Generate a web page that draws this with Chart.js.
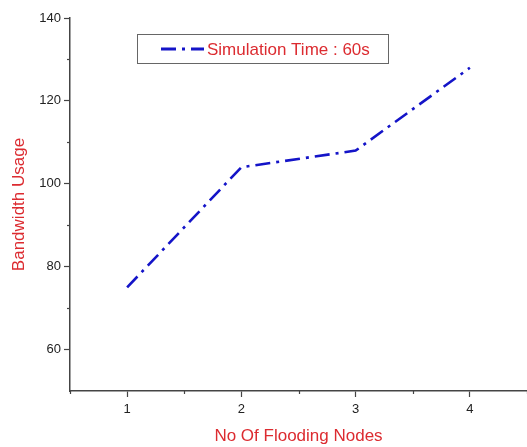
<!DOCTYPE html>
<html lang="en">
<head>
  <meta charset="UTF-8" />
  <title>Bandwidth Usage vs Flooding Nodes</title>
  <script src="https://cdn.jsdelivr.net/npm/chart.js"></script>
  <style>
    * { margin: 0; padding: 0; box-sizing: border-box; }
    body { background: #ffffff; width: 527px; height: 447px; overflow: hidden; }
    canvas { display: block; }
  </style>
</head>
<body>
  <canvas id="bwChart" width="527" height="447"></canvas>

  <script>
    // data
    const floodingNodes = [1, 2, 3, 4];
    const bandwidthUsage = [75, 104, 108, 128];
    const seriesLabel = 'Simulation Time : 60s';
    const yLabelTicks = [60, 80, 100, 120, 140];
    const xLabelTicks = [1, 2, 3, 4];

    const red = '#dc2b30';
    const axisColor = '#444444';

    // short minor ticks + boxed legend, like the original plot
    const extras = {
      id: 'extras',
      afterDraw(chart) {
        const c = chart.ctx;
        const xs = chart.scales.x, ys = chart.scales.y;
        const area = chart.chartArea;
        c.save();
        c.strokeStyle = axisColor;
        c.lineWidth = 1.2;
        xs.ticks.forEach(t => {
          if (xLabelTicks.includes(t.value)) return;
          const px = Math.round(xs.getPixelForValue(t.value)) + 0.5;
          c.beginPath();
          c.moveTo(px, area.bottom);
          c.lineTo(px, area.bottom + 3);
          c.stroke();
        });
        ys.ticks.forEach(t => {
          if (yLabelTicks.includes(t.value) || t.value === ys.min) return;
          const py = Math.round(ys.getPixelForValue(t.value)) + 0.5;
          c.beginPath();
          c.moveTo(area.left, py);
          c.lineTo(area.left - 3, py);
          c.stroke();
        });

        // legend box
        const ds = chart.data.datasets[0];
        c.strokeStyle = '#666666';
        c.lineWidth = 1;
        c.strokeRect(137.5, 34.5, 251, 29);
        c.strokeStyle = ds.borderColor;
        c.lineWidth = 3;
        c.setLineDash(ds.borderDash);
        c.beginPath();
        c.moveTo(161, 49);
        c.lineTo(204, 49);
        c.stroke();
        c.setLineDash([]);
        c.fillStyle = red;
        c.font = '17px "Liberation Sans", Arial, sans-serif';
        c.textBaseline = 'middle';
        c.fillText(ds.label, 207, 50);
        c.restore();
      }
    };

    const ctx = document.getElementById('bwChart').getContext('2d');
    new Chart(ctx, {
      type: 'line',
      data: {
        datasets: [{
          label: seriesLabel,
          data: floodingNodes.map((n, i) => ({ x: n, y: bandwidthUsage[i] })),
          borderColor: '#1414c8',
          borderWidth: 2.6,
          borderDash: [15, 6, 3, 6],
          pointRadius: 0,
          tension: 0,
          fill: false
        }]
      },
      options: {
        responsive: false,
        animation: false,
        layout: { padding: { top: 18, right: 0, bottom: 0, left: 0 } },
        plugins: {
          legend: { display: false },
          tooltip: { enabled: false }
        },
        scales: {
          x: {
            type: 'linear',
            min: 0.5,
            max: 4.5,
            afterFit: s => { s.height = 56; s.paddingLeft = 0; s.paddingRight = 0; },
            ticks: {
              stepSize: 0.5,
              autoSkip: false,
              maxRotation: 0,
              padding: 5,
              color: '#222222',
              font: { family: '"Liberation Sans", Arial, sans-serif', size: 13 },
              callback: v => xLabelTicks.includes(v) ? v : ''
            },
            grid: {
              drawOnChartArea: false,
              drawTicks: true,
              tickLength: 6,
              tickWidth: 1.2,
              tickColor: c => xLabelTicks.includes(c.tick.value) ? axisColor : 'rgba(0,0,0,0)'
            },
            border: { display: true, color: axisColor, width: 1.5 },
            title: {
              display: true,
              text: 'No Of Flooding Nodes',
              color: red,
              padding: { top: 0, bottom: 0 },
              font: { family: '"Liberation Sans", Arial, sans-serif', size: 17 }
            }
          },
          y: {
            min: 50,
            max: 140,
            afterFit: s => { s.width = 70; },
            ticks: {
              stepSize: 10,
              autoSkip: false,
              padding: 3,
              color: '#222222',
              font: { family: '"Liberation Sans", Arial, sans-serif', size: 13 },
              callback: v => yLabelTicks.includes(v) ? v : ''
            },
            grid: {
              drawOnChartArea: false,
              drawTicks: true,
              tickLength: 6,
              tickWidth: 1.2,
              tickColor: c => yLabelTicks.includes(c.tick.value) ? axisColor : 'rgba(0,0,0,0)'
            },
            border: { display: true, color: axisColor, width: 1.5 },
            title: {
              display: true,
              text: 'Bandwidth Usage',
              color: red,
              padding: { top: 9, bottom: 0 },
              font: { family: '"Liberation Sans", Arial, sans-serif', size: 17 }
            }
          }
        }
      },
      plugins: [extras]
    });
  </script>
</body>
</html>
